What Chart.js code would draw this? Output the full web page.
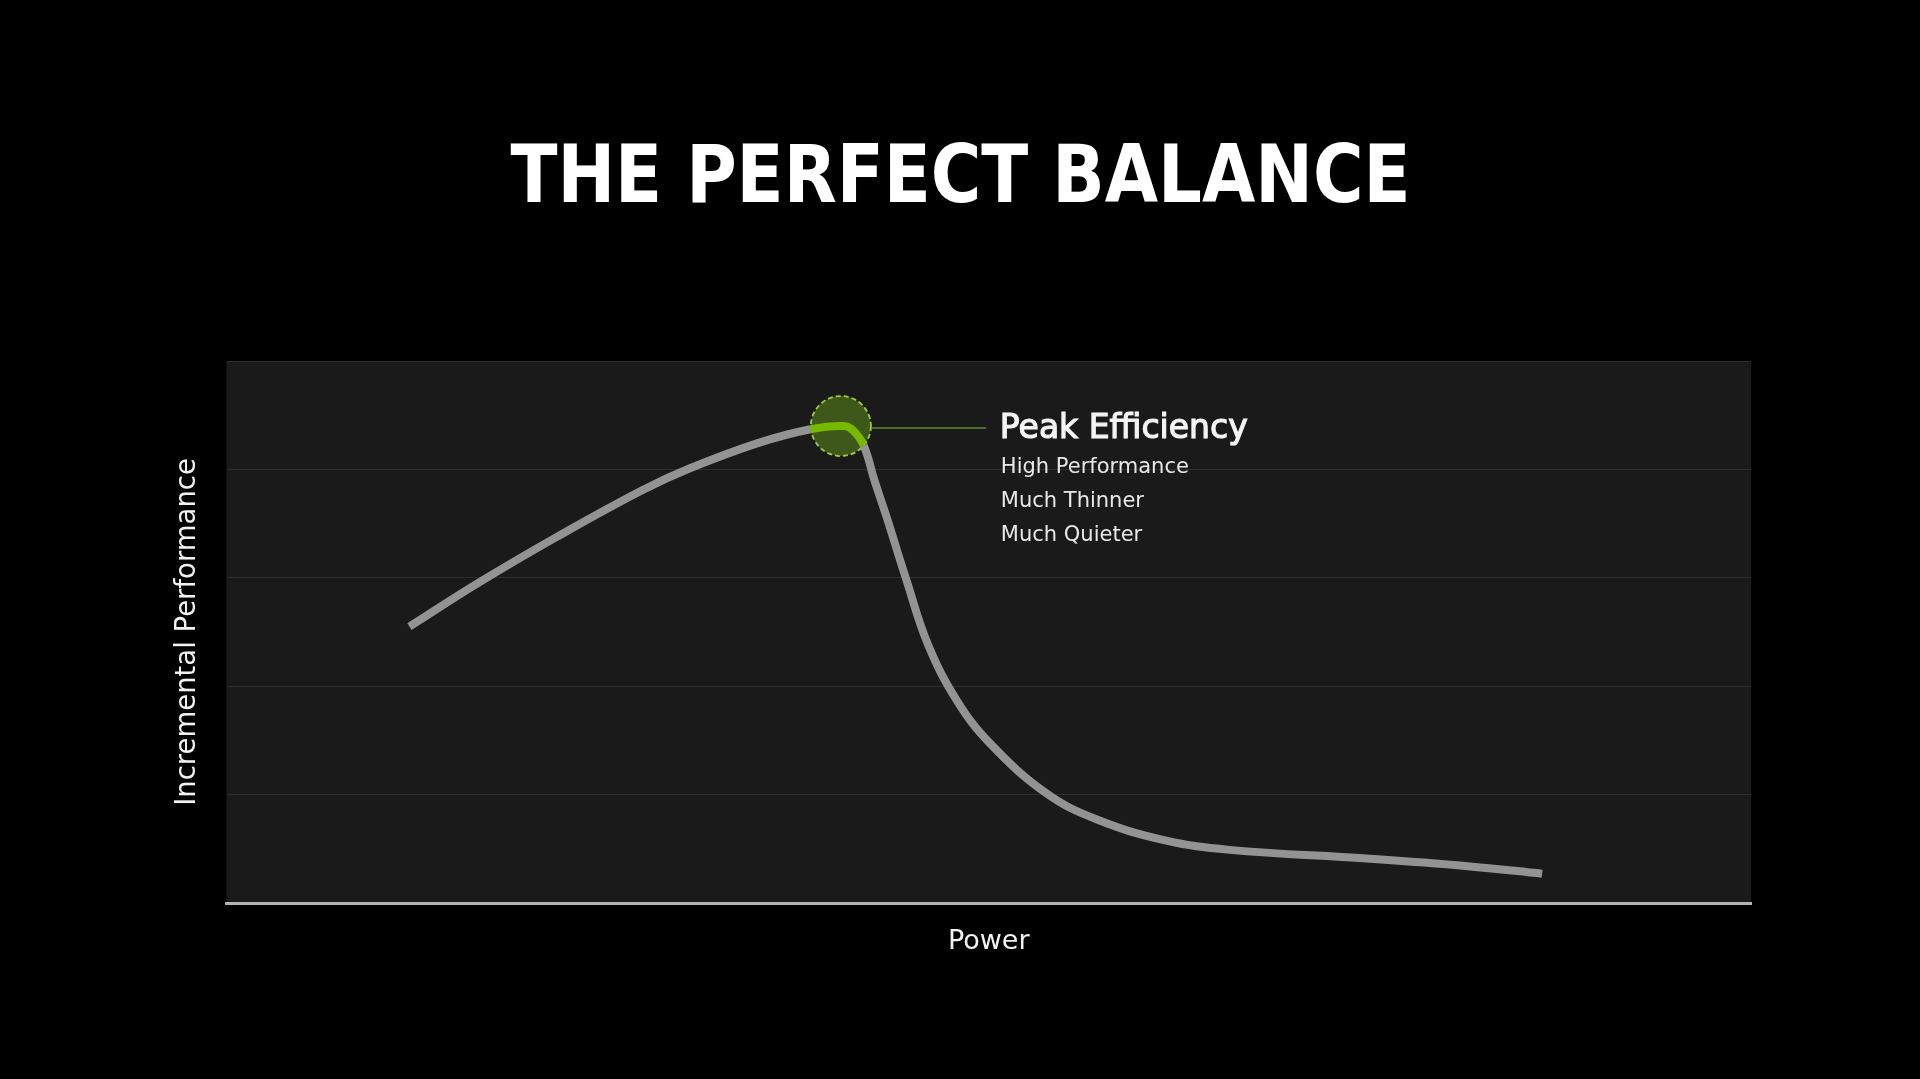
<!DOCTYPE html>
<html>
<head>
<meta charset="utf-8">
<title>The Perfect Balance</title>
<script src="https://cdn.jsdelivr.net/npm/chart.js@4.4.0/dist/chart.umd.min.js"></script>
<style>
    html, body { margin: 0; padding: 0; background: #000; overflow: hidden; }
    #wrap { position: relative; width: 1920px; height: 1079px; }
</style>
</head>
<body>
<div id="wrap"><canvas id="balanceChart" width="1920" height="1079"></canvas></div>
<script>
// ===========================
// DATA
// ===========================
const chartTitle = 'THE PERFECT BALANCE';
const xAxisLabel = 'Power';
const yAxisLabel = 'Incremental Performance';

// Power on a 0-100 scale, incremental performance on a 0-5 scale
const powerValues = [12.0, 16.6, 21.7, 27.3, 30.4, 34.8, 38.3, 40.5, 41.1, 41.8, 42.5, 43.3, 44.6, 46.0, 47.9, 50.1, 53.8, 57.1, 61.5, 65.8, 74.8, 81.4, 86.3];
const performanceValues = [2.55, 2.96, 3.38, 3.81, 4.01, 4.24, 4.37, 4.40, 4.36, 4.22, 3.90, 3.56, 2.98, 2.39, 1.87, 1.47, 1.01, 0.77, 0.58, 0.49, 0.41, 0.34, 0.27];
const yGridTicks = [0, 1, 2, 3, 4, 5];

// Highlighted stretch of the curve (point indices) and the marker centre
const peakSegment = [6, 9];
const peakPoint = [40.3, 4.4];
const peakLabel = 'Peak Efficiency';
const peakNotes = ['High Performance', 'Much Thinner', 'Much Quieter'];

const curvePoints = powerValues.map((p, i) => ({ x: p, y: performanceValues[i] }));

// Black slide + dark plot panel
const slideBackground = {
    id: 'slideBackground',
    beforeDraw(chart) {
        const { ctx, chartArea: a } = chart;
        ctx.save();
        ctx.fillStyle = '#000';
        ctx.fillRect(0, 0, chart.width, chart.height);
        ctx.fillStyle = '#1a1a1a';
        ctx.fillRect(a.left, a.top, a.right - a.left, a.bottom - a.top);
        ctx.restore();
    },
    afterDraw(chart) {
        // Slide title, squeezed to the width of the original heading
        const ctx = chart.ctx;
        ctx.save();
        ctx.font = 'bold 81px "DejaVu Sans"';
        const w = ctx.measureText(chartTitle).width;
        const sx = 900 / w;
        ctx.translate(960.5, 202);
        ctx.scale(sx, 1);
        ctx.fillStyle = '#ffffff';
        ctx.textAlign = 'center';
        ctx.textBaseline = 'alphabetic';
        ctx.fillText(chartTitle, 0, 0);
        ctx.restore();
    }
};

// Green "peak efficiency" marker and its callout
const peakMarker = {
    id: 'peakMarker',
    beforeDatasetsDraw(chart) {
        const { ctx, scales } = chart;
        const cx = scales.x.getPixelForValue(peakPoint[0]);
        const cy = scales.y.getPixelForValue(peakPoint[1]);
        ctx.save();
        ctx.beginPath();
        ctx.arc(cx, cy, 30, 0, Math.PI * 2);
        ctx.fillStyle = '#3d5818';
        ctx.fill();
        ctx.setLineDash([5, 3]);
        ctx.lineWidth = 1.8;
        ctx.strokeStyle = '#9ccb48';
        ctx.stroke();
        ctx.restore();
    },
    afterDatasetsDraw(chart) {
        const { ctx, scales } = chart;
        const cx = scales.x.getPixelForValue(peakPoint[0]);
        const cy = scales.y.getPixelForValue(peakPoint[1]);
        const textX = cx + 159;

        ctx.save();
        ctx.beginPath();
        ctx.moveTo(cx + 31, cy + 2);
        ctx.lineTo(textX - 14, cy + 2);
        ctx.lineWidth = 1.5;
        ctx.strokeStyle = '#5d8d26';
        ctx.stroke();

        ctx.textAlign = 'left';
        ctx.textBaseline = 'alphabetic';
        ctx.font = '33px "DejaVu Sans"';
        ctx.fillStyle = '#f4f4f4';
        ctx.strokeStyle = '#f4f4f4';
        ctx.lineWidth = 1.2;
        ctx.fillText(peakLabel, textX, cy + 12);
        ctx.strokeText(peakLabel, textX, cy + 12);

        ctx.font = '21px "DejaVu Sans"';
        ctx.fillStyle = '#e8e8e8';
        peakNotes.forEach((note, i) => {
            ctx.fillText(note, textX + 1, cy + 47 + i * 34);
        });
        ctx.restore();
    }
};

const ctx = document.getElementById('balanceChart').getContext('2d');
new Chart(ctx, {
    type: 'line',
    data: {
        datasets: [{
            data: curvePoints,
            borderColor: '#939393',
            borderWidth: 8,
            borderCapStyle: 'butt',
            borderJoinStyle: 'round',
            tension: 0.4,
            pointRadius: 0,
            fill: false,
            segment: {
                borderColor: c => (c.p0DataIndex >= peakSegment[0] && c.p1DataIndex <= peakSegment[1]) ? '#76b900' : undefined
            }
        }]
    },
    options: {
        responsive: false,
        animation: false,
        layout: {
            padding: { left: 171, right: 169, top: 361, bottom: 121 }
        },
        plugins: {
            legend: { display: false },
            tooltip: { enabled: false },
            title: { display: false }
        },
        scales: {
            x: {
                type: 'linear',
                min: 0,
                max: 100,
                grid: { display: false, drawTicks: false },
                border: { display: true, color: '#b4b4b4', width: 3 },
                ticks: { display: false },
                title: {
                    display: true,
                    text: xAxisLabel,
                    color: '#f2f2f2',
                    font: { family: 'DejaVu Sans', size: 27 },
                    padding: { top: 22.6, bottom: 0 }
                }
            },
            y: {
                type: 'linear',
                min: yGridTicks[0],
                max: yGridTicks[yGridTicks.length - 1],
                afterBuildTicks: axis => { axis.ticks = yGridTicks.map(v => ({ value: v })); },
                grid: { color: '#2e2e2e', lineWidth: 1, drawTicks: false },
                border: { display: false },
                ticks: { display: false },
                title: {
                    display: true,
                    text: yAxisLabel,
                    color: '#f2f2f2',
                    font: { family: 'DejaVu Sans', size: 27.5 },
                    padding: { top: 0, bottom: 22.5 }
                }
            }
        }
    },
    plugins: [slideBackground, peakMarker]
});
</script>
</body>
</html>
